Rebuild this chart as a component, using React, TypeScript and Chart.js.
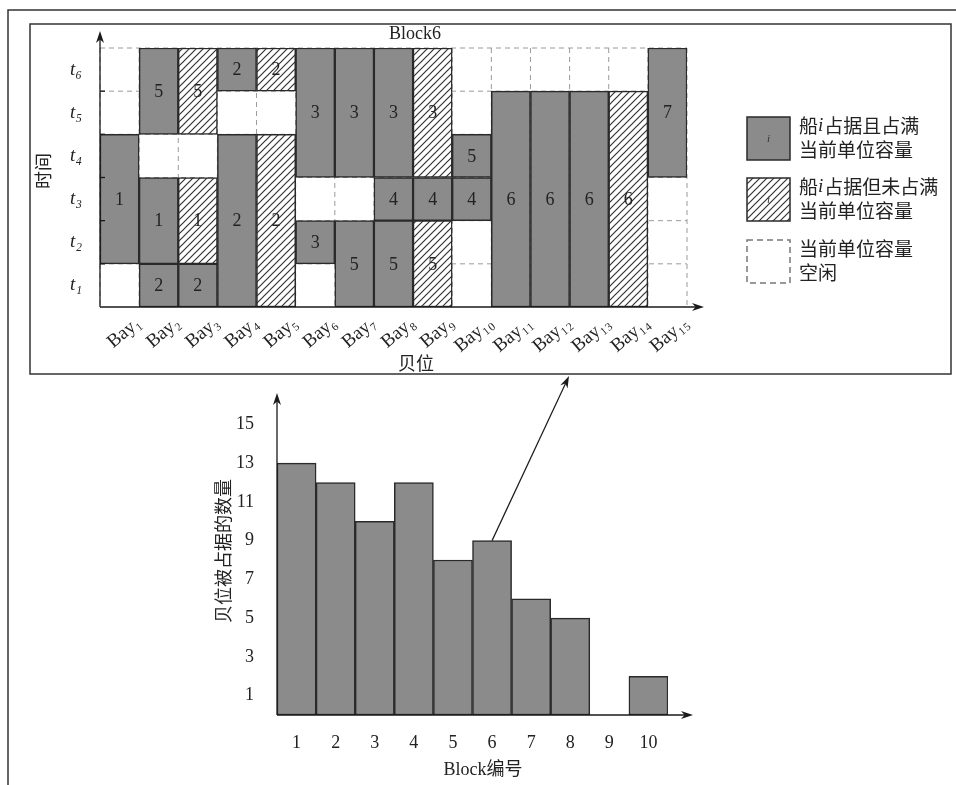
import React, { useEffect, useRef } from 'react';
import { Chart, registerables } from 'chart.js';

Chart.register(...registerables);

// ---------- bottom chart data ----------
const blockLabels = ['1', '2', '3', '4', '5', '6', '7', '8', '9', '10'];
const occupiedBays = [13, 12, 10, 12, 8, 9, 6, 5, 0, 2];
const countTicks = [1, 3, 5, 7, 9, 11, 13, 15];

// ---------- inset (Block6) data ----------
const bayLabels = ['Bay₁', 'Bay₂', 'Bay₃', 'Bay₄', 'Bay₅', 'Bay₆', 'Bay₇', 'Bay₈', 'Bay₉', 'Bay₁₀', 'Bay₁₁', 'Bay₁₂', 'Bay₁₃', 'Bay₁₄', 'Bay₁₅'];
const timeLabels = ['t₁', 't₂', 't₃', 't₄', 't₅', 't₆'];

// layer 1: lowest occupied segment of each bay, [start slot, end slot]
const layer1Span = [[1, 4], [0, 1], [0, 1], [0, 4], [0, 4], [1, 2], [0, 2], [0, 2], [0, 2], [2, 3], [0, 5], [0, 5], [0, 5], [0, 5], [3, 6]];
const layer1Ship = [1, 2, 2, 2, 2, 3, 5, 5, 5, 4, 6, 6, 6, 6, 7];
const layer1Full = [true, true, true, true, false, true, true, true, false, true, true, true, true, false, true];

// layer 2
const layer2Span = [null, [1, 3], [1, 3], [5, 6], [5, 6], [3, 6], [3, 6], [2, 3], [2, 3], [3, 4], null, null, null, null, null];
const layer2Ship = [null, 1, 1, 2, 2, 3, 3, 4, 4, 5, null, null, null, null, null];
const layer2Full = [null, true, false, true, false, true, true, true, true, true, null, null, null, null, null];

// layer 3
const layer3Span = [null, [4, 6], [4, 6], null, null, null, null, [3, 6], [3, 6], null, null, null, null, null, null];
const layer3Ship = [null, 5, 5, null, null, null, null, 3, 3, null, null, null, null, null, null];
const layer3Full = [null, true, false, null, null, null, null, true, false, null, null, null, null, null, null];

const legendLines = [
  [['船', false], ['i', true], ['占据且占满', false]],
  [['当前单位容量', false]],
  [['船', false], ['i', true], ['占据但未占满', false]],
  [['当前单位容量', false]],
  [['当前单位容量', false]],
  [['空闲', false]],
];

const SERIF = '"Liberation Serif", "DejaVu Serif", "Noto Sans CJK SC", serif';
const CJK = '"Noto Sans CJK SC", "Liberation Serif", sans-serif';
const GRAY = '#8b8b8b';
const EDGE = '#2a2a2a';

function makeHatch(): CanvasPattern | string {
  const c = document.createElement('canvas');
  c.width = 7;
  c.height = 7;
  const g = c.getContext('2d');
  if (!g) return '#fff';
  g.fillStyle = '#ffffff';
  g.fillRect(0, 0, 7, 7);
  g.strokeStyle = '#333333';
  g.lineWidth = 1.2;
  g.beginPath();
  g.moveTo(-1, 8);
  g.lineTo(8, -1);
  g.moveTo(-1, 1);
  g.lineTo(1, -1);
  g.moveTo(6, 8);
  g.lineTo(8, 6);
  g.stroke();
  return g.createPattern(c, 'repeat') || '#fff';
}

function arrow(ctx: CanvasRenderingContext2D, x1: number, y1: number, x2: number, y2: number, w = 1.3) {
  const a = Math.atan2(y2 - y1, x2 - x1);
  const L = 12;
  const H = 4;
  ctx.save();
  ctx.strokeStyle = '#1a1a1a';
  ctx.fillStyle = '#1a1a1a';
  ctx.lineWidth = w;
  ctx.beginPath();
  ctx.moveTo(x1, y1);
  ctx.lineTo(x2 - Math.cos(a) * 6, y2 - Math.sin(a) * 6);
  ctx.stroke();
  ctx.beginPath();
  ctx.moveTo(x2, y2);
  ctx.lineTo(x2 - L * Math.cos(a) + H * Math.sin(a), y2 - L * Math.sin(a) - H * Math.cos(a));
  ctx.lineTo(x2 - 0.7 * L * Math.cos(a), y2 - 0.7 * L * Math.sin(a));
  ctx.lineTo(x2 - L * Math.cos(a) - H * Math.sin(a), y2 - L * Math.sin(a) + H * Math.cos(a));
  ctx.closePath();
  ctx.fill();
  ctx.restore();
}

const W = 956;
const H = 785;

export default function App() {
  const mainRef = useRef<HTMLCanvasElement>(null);
  const insetRef = useRef<HTMLCanvasElement>(null);

  useEffect(() => {
    if (!mainRef.current || !insetRef.current) return;
    const hatch = makeHatch();

    // ---------------- bottom chart ----------------
    const mainDecor = {
      id: 'mainDecor',
      beforeDraw(chart: any) {
        const ctx = chart.ctx;
        ctx.save();
        ctx.strokeStyle = '#333';
        ctx.lineWidth = 1.5;
        // outer frame
        ctx.beginPath();
        ctx.moveTo(8, 785);
        ctx.lineTo(8, 10);
        ctx.lineTo(956, 10);
        ctx.stroke();
        // inset frame
        ctx.strokeRect(30, 24, 921, 350);
        ctx.restore();
      },
      afterDatasetsDraw(chart: any) {
        const ctx = chart.ctx;
        const xs = chart.scales.x;
        const ys = chart.scales.y;
        const x0 = chart.chartArea.left;
        const y0 = ys.getPixelForValue(0);
        arrow(ctx, x0, y0, x0, 393);
        arrow(ctx, x0, y0, xs.right + 25, y0);
        // arrow from Block 6 bar to the inset
        const bar = chart.getDatasetMeta(0).data[5];
        const p = bar.getProps(['x', 'y'], true);
        arrow(ctx, p.x, p.y, 569, 376, 1.2);
        ctx.save();
        ctx.fillStyle = '#222';
        ctx.font = '18px ' + SERIF;
        ctx.textAlign = 'center';
        ctx.textBaseline = 'middle';
        ctx.fillText('Block编号', 483, 770);
        ctx.translate(223, 551);
        ctx.rotate(-Math.PI / 2);
        ctx.font = '18px ' + CJK;
        ctx.fillText('贝位被占据的数量', 0, 0);
        ctx.restore();
      },
    };

    const main = new Chart(mainRef.current, {
      type: 'bar',
      data: {
        labels: blockLabels,
        datasets: [
          {
            data: occupiedBays,
            backgroundColor: GRAY,
            borderColor: EDGE,
            borderWidth: 1.5,
            borderSkipped: false,
            barPercentage: 1,
            categoryPercentage: 1,
          },
        ],
      },
      options: {
        responsive: false,
        devicePixelRatio: 1,
        animation: false,
        events: [],
        layout: { padding: { left: 0, right: 288, top: 405, bottom: 0 }, autoPadding: false },
        plugins: { legend: { display: false }, tooltip: { enabled: false } },
        scales: {
          x: {
            grid: { display: false },
            border: { display: false },
            ticks: { color: '#222', font: { family: SERIF, size: 18 }, padding: 9, maxRotation: 0 },
            afterFit(axis: any) {
              axis.height = 70;
            },
          },
          y: {
            min: 0,
            max: 16,
            grid: { display: false },
            border: { display: false },
            ticks: { color: '#222', font: { family: SERIF, size: 18 }, padding: 15 },
            afterBuildTicks(axis: any) {
              axis.ticks = countTicks.map((v) => ({ value: v }));
            },
            afterFit(axis: any) {
              axis.width = 277;
            },
          },
        },
      },
      plugins: [mainDecor],
    } as any);

    // ---------------- inset chart ----------------
    const layers = [
      [layer1Span, layer1Ship, layer1Full],
      [layer2Span, layer2Ship, layer2Full],
      [layer3Span, layer3Ship, layer3Full],
    ] as any[];
    const datasets: any[] = [];
    layers.forEach(([span, ship, full]) => {
      [true, false].forEach((kind) => {
        datasets.push({
          data: span.map((s: any, i: number) => (s && full[i] === kind ? s : null)),
          ships: ship,
          backgroundColor: kind ? GRAY : hatch,
          borderColor: EDGE,
          borderWidth: 1.5,
          borderSkipped: false,
          barPercentage: 1,
          categoryPercentage: 1,
          grouped: false,
        });
      });
    });

    const drawRich = (ctx: CanvasRenderingContext2D, parts: any[], x: number, y: number) => {
      let cx = x;
      parts.forEach(([t, it]) => {
        ctx.font = it ? 'italic 19px ' + SERIF : '19px ' + CJK;
        ctx.fillText(t, cx, y);
        cx += ctx.measureText(t).width + (it ? 1 : 0);
      });
    };

    const insetDecor = {
      id: 'insetDecor',
      beforeDatasetsDraw(chart: any) {
        const ctx = chart.ctx;
        const xs = chart.scales.x;
        const ys = chart.scales.y;
        const top = ys.getPixelForValue(6);
        const bot = ys.getPixelForValue(0);
        const step = xs.getPixelForValue(1) - xs.getPixelForValue(0);
        const left = xs.getPixelForValue(0) - step / 2;
        const right = left + step * bayLabels.length;
        ctx.save();
        ctx.strokeStyle = '#9a9a9a';
        ctx.lineWidth = 1;
        ctx.setLineDash([5, 4]);
        for (let i = 0; i <= bayLabels.length; i++) {
          const x = left + i * step;
          ctx.beginPath();
          ctx.moveTo(x, top);
          ctx.lineTo(x, bot);
          ctx.stroke();
        }
        for (let r = 1; r <= timeLabels.length; r++) {
          const y = ys.getPixelForValue(r);
          ctx.beginPath();
          ctx.moveTo(left, y);
          ctx.lineTo(right, y);
          ctx.stroke();
        }
        ctx.restore();
      },
      afterDatasetsDraw(chart: any) {
        const ctx = chart.ctx;
        const ys = chart.scales.y;
        const area = chart.chartArea;
        ctx.save();
        ctx.fillStyle = '#222';
        ctx.font = '18px ' + SERIF;
        ctx.textAlign = 'center';
        ctx.textBaseline = 'middle';
        chart.data.datasets.forEach((ds: any, di: number) => {
          const meta = chart.getDatasetMeta(di);
          meta.data.forEach((el: any, i: number) => {
            if (ds.data[i] == null) return;
            const p = el.getProps(['x', 'y', 'base'], true);
            ctx.fillText(String(ds.ships[i]), p.x, (p.y + p.base) / 2 + 1);
          });
        });
        ctx.restore();

        // axes
        const bot = ys.getPixelForValue(0);
        arrow(ctx, area.left, bot, area.left, 31);
        arrow(ctx, area.left, bot, 704, bot);
        ctx.save();
        ctx.strokeStyle = '#1a1a1a';
        ctx.lineWidth = 1.3;
        for (let r = 1; r < timeLabels.length; r++) {
          const y = ys.getPixelForValue(r);
          ctx.beginPath();
          ctx.moveTo(area.left, y);
          ctx.lineTo(area.left + 5, y);
          ctx.stroke();
        }
        ctx.restore();

        // titles
        ctx.save();
        ctx.fillStyle = '#222';
        ctx.textAlign = 'center';
        ctx.textBaseline = 'middle';
        ctx.font = '18px ' + SERIF;
        ctx.fillText('Block6', 415, 34);
        ctx.font = '18px ' + CJK;
        ctx.fillText('贝位', 416, 363);
        ctx.translate(43, 171);
        ctx.rotate(-Math.PI / 2);
        ctx.fillText('时间', 0, 0);
        ctx.restore();

        // legend
        ctx.save();
        const bx = 747;
        const bw = 43;
        const boxes = [117, 178, 240];
        ctx.lineWidth = 1.5;
        ctx.fillStyle = GRAY;
        ctx.strokeStyle = EDGE;
        ctx.fillRect(bx, boxes[0], bw, 43);
        ctx.strokeRect(bx, boxes[0], bw, 43);
        ctx.fillStyle = hatch as any;
        ctx.fillRect(bx, boxes[1], bw, 43);
        ctx.strokeRect(bx, boxes[1], bw, 43);
        ctx.strokeStyle = '#777';
        ctx.setLineDash([6, 4]);
        ctx.strokeRect(bx, boxes[2], bw, 43);
        ctx.setLineDash([]);
        ctx.fillStyle = '#333';
        ctx.font = 'italic 11px ' + SERIF;
        ctx.textAlign = 'center';
        ctx.textBaseline = 'middle';
        ctx.fillText('i', bx + bw / 2, boxes[0] + 22);
        ctx.fillText('i', bx + bw / 2, boxes[1] + 22);
        ctx.textAlign = 'left';
        ctx.fillStyle = '#222';
        boxes.forEach((by, k) => {
          drawRich(ctx, legendLines[k * 2], 799, by + 9);
          drawRich(ctx, legendLines[k * 2 + 1], 799, by + 33);
        });
        ctx.restore();
      },
    };

    const inset = new Chart(insetRef.current, {
      type: 'bar',
      data: { labels: bayLabels, datasets },
      options: {
        responsive: false,
        devicePixelRatio: 1,
        animation: false,
        events: [],
        layout: { padding: { left: 0, right: 269, top: 48, bottom: 0 }, autoPadding: false },
        plugins: { legend: { display: false }, tooltip: { enabled: false } },
        scales: {
          x: {
            grid: { display: false },
            border: { display: false },
            ticks: {
              color: '#222',
              font: { family: SERIF, size: 19 },
              minRotation: 40,
              maxRotation: 40,
              autoSkip: false,
              labelOffset: 19,
              padding: -3,
            },
            afterFit(axis: any) {
              axis.height = 478;
            },
          },
          y: {
            min: 0,
            max: 6,
            grid: { display: false },
            border: { display: false },
            ticks: {
              color: '#222',
              font: { family: SERIF, size: 19, style: 'italic' },
              padding: 10,
              callback: (v: any) => timeLabels[Math.round(Number(v) - 0.5)] ?? '',
            },
            afterBuildTicks(axis: any) {
              axis.ticks = timeLabels.map((_, i) => ({ value: i + 0.5 }));
            },
            afterFit(axis: any) {
              axis.width = 100;
            },
          },
        },
      },
      plugins: [insetDecor],
    } as any);

    return () => {
      main.destroy();
      inset.destroy();
    };
  }, []);

  const canvasStyle: React.CSSProperties = { position: 'absolute', left: 0, top: 0, width: W, height: H };
  return (
    <div style={{ position: 'absolute', left: 0, top: 0, width: W, height: H, background: '#fff' }}>
      <canvas ref={mainRef} width={W} height={H} style={canvasStyle} />
      <canvas ref={insetRef} width={W} height={H} style={canvasStyle} />
    </div>
  );
}
